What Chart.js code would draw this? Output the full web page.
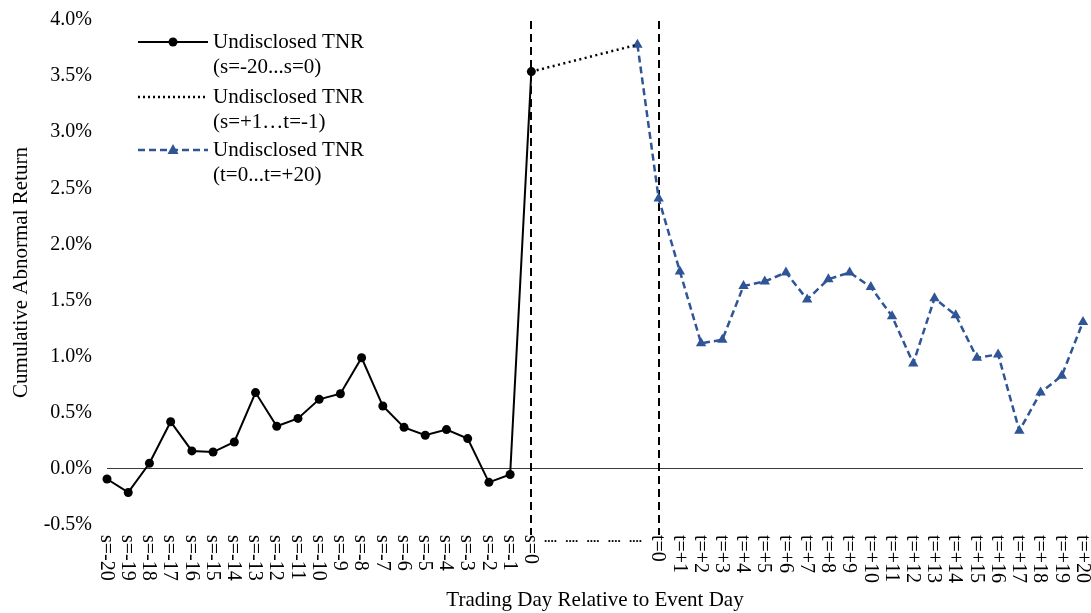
<!DOCTYPE html>
<html>
<head>
<meta charset="utf-8">
<script src="https://cdn.jsdelivr.net/npm/chart.js@4/dist/chart.umd.min.js"></script>
<style>
  html, body { margin: 0; padding: 0; background: #ffffff; }
  #wrap { width: 1091px; height: 613px; }
</style>
</head>
<body>
<div id="wrap"><canvas id="c" width="1091" height="613"></canvas></div>
<script>
// ---- Data ----
const preLabels = ['s=-20','s=-19','s=-18','s=-17','s=-16','s=-15','s=-14','s=-13','s=-12','s=-11',
                   's=-10','s=-9','s=-8','s=-7','s=-6','s=-5','s=-4','s=-3','s=-2','s=-1','s=0'];
const gapLabels = ['....','....','....','....','....'];
const postLabels = ['t=0','t=+1','t=+2','t=+3','t=+4','t=+5','t=+6','t=+7','t=+8','t=+9','t=+10',
                    't=+11','t=+12','t=+13','t=+14','t=+15','t=+16','t=+17','t=+18','t=+19','t=+20'];

// Cumulative abnormal return, percent
const preEventCAR = [-0.09, -0.21, 0.05, 0.42, 0.16, 0.15, 0.24, 0.68, 0.38, 0.45,
                     0.62, 0.67, 0.99, 0.56, 0.37, 0.30, 0.35, 0.27, -0.12, -0.05, 3.54];
const bridgeCAR = [3.54, 3.78];            // s=0 -> last gap day
const postEventCAR = [3.78,                // last gap day
                      2.41, 1.76, 1.12, 1.15, 1.63, 1.67, 1.75, 1.51, 1.69, 1.75, 1.62,
                      1.36, 0.94, 1.52, 1.37, 0.99, 1.02, 0.34, 0.68, 0.83, 1.31];

const yTicks = [-0.5, 0.0, 0.5, 1.0, 1.5, 2.0, 2.5, 3.0, 3.5, 4.0];

const legendNames = [
  ['Undisclosed TNR', '(s=-20...s=0)'],
  ['Undisclosed TNR', '(s=+1\u2026t=-1)'],
  ['Undisclosed TNR', '(t=0...t=+20)']
];

// ---- Build library structures ----
const categories = [...preLabels, ...gapLabels, ...postLabels];
const N = categories.length;
const blank = () => new Array(N).fill(null);

const solidData = blank();
preEventCAR.forEach((v, i) => solidData[i] = v);

const bridgeData = blank();
const sZero = preLabels.length - 1;
const gapEnd = preLabels.length + gapLabels.length - 1;
bridgeData[sZero] = bridgeCAR[0];
bridgeData[gapEnd] = bridgeCAR[1];

const postData = blank();
postEventCAR.forEach((v, i) => postData[gapEnd + i] = v);

const tZero = preLabels.length + gapLabels.length;

const BLUE = '#2F5597';
const FONT = 'Liberation Serif, Times New Roman, serif';

const overlay = {
  id: 'overlay',
  beforeDatasetsDraw(chart) {
    const ctx = chart.ctx, xs = chart.scales.x, a = chart.chartArea;
    ctx.save();
    ctx.strokeStyle = '#000';
    ctx.lineWidth = 2;
    ctx.setLineDash([8, 5]);
    [sZero, tZero].forEach(i => {
      const x = Math.round(xs.getPixelForValue(i));
      ctx.beginPath();
      ctx.moveTo(x, a.top + 1);
      ctx.lineTo(x, a.bottom + 10);
      ctx.stroke();
    });
    ctx.restore();
  },
  afterDraw(chart) {
    const ctx = chart.ctx, xs = chart.scales.x, a = chart.chartArea;
    ctx.save();
    // x tick labels, reading top-to-bottom
    ctx.fillStyle = '#000';
    categories.forEach((lab, i) => {
      const x = xs.getPixelForValue(i);
      if (gapLabels.length && i > sZero && i < tZero) {
        ctx.font = 'bold 13px ' + FONT;
        ctx.textAlign = 'center';
        ctx.textBaseline = 'alphabetic';
        ctx.fillText(lab, x - 2, a.bottom + 17);
      } else {
        ctx.save();
        ctx.translate(x, a.bottom + 10);
        ctx.rotate(Math.PI / 2);
        ctx.font = '20px ' + FONT;
        ctx.textAlign = 'left';
        ctx.textBaseline = 'middle';
        ctx.fillText(lab, 0, 1);
        ctx.restore();
      }
    });

    // legend
    const lx0 = 138, lx1 = 208, tx = 213;
    const rows = [42, 97, 150];
    const styles = [
      {color: '#000', dash: [], width: 2, marker: 'circle'},
      {color: '#000', dash: [2, 3], width: 2.5, marker: null},
      {color: BLUE, dash: [7, 4], width: 2.5, marker: 'triangle'}
    ];
    rows.forEach((y, k) => {
      const s = styles[k];
      ctx.strokeStyle = s.color;
      ctx.lineWidth = s.width;
      ctx.setLineDash(s.dash);
      ctx.beginPath();
      ctx.moveTo(lx0, y);
      ctx.lineTo(lx1, y);
      ctx.stroke();
      ctx.setLineDash([]);
      ctx.fillStyle = s.color;
      const mx = (lx0 + lx1) / 2;
      if (s.marker === 'circle') {
        ctx.beginPath(); ctx.arc(mx, y, 4.5, 0, Math.PI * 2); ctx.fill();
      } else if (s.marker === 'triangle') {
        ctx.beginPath();
        ctx.moveTo(mx, y - 6); ctx.lineTo(mx + 5.5, y + 4); ctx.lineTo(mx - 5.5, y + 4);
        ctx.closePath(); ctx.fill();
      }
      ctx.fillStyle = '#000';
      ctx.font = '21px ' + FONT;
      ctx.textAlign = 'left';
      ctx.textBaseline = 'middle';
      ctx.fillText(legendNames[k][0], tx, y);
      ctx.fillText(legendNames[k][1], tx, y + 25);
    });
    ctx.restore();
  }
};

new Chart(document.getElementById('c'), {
  type: 'line',
  data: {
    labels: categories,
    datasets: [
      {
        label: legendNames[0].join(' '),
        data: solidData,
        borderColor: '#000', backgroundColor: '#000',
        borderWidth: 2, pointStyle: 'circle', pointRadius: 4.5,
        pointBackgroundColor: '#000', pointBorderColor: '#000', pointBorderWidth: 0,
        fill: false, tension: 0, spanGaps: false, clip: false
      },
      {
        label: legendNames[1].join(' '),
        data: bridgeData,
        borderColor: '#000', borderWidth: 2.5, borderDash: [2, 3.5],
        pointRadius: 0, fill: false, tension: 0, spanGaps: true, clip: false
      },
      {
        label: legendNames[2].join(' '),
        data: postData,
        borderColor: BLUE, backgroundColor: BLUE,
        borderWidth: 2.5, borderDash: [7, 4],
        pointStyle: 'triangle', pointRadius: 6,
        pointBackgroundColor: BLUE, pointBorderColor: BLUE, pointBorderWidth: 0,
        fill: false, tension: 0, spanGaps: false, clip: false
      }
    ]
  },
  options: {
    responsive: false,
    animation: false,
    devicePixelRatio: 1,
    layout: { padding: { top: 20, right: 8, left: 0, bottom: 0 } },
    plugins: { legend: { display: false }, tooltip: { enabled: false } },
    scales: {
      x: {
        type: 'category',
        offset: false,
        grid: { display: false, drawTicks: false },
        border: { display: false },
        ticks: { display: false, autoSkip: false },
        title: {
          display: true, text: 'Trading Day Relative to Event Day',
          color: '#000', font: { family: FONT, size: 21 }, padding: { top: 0, bottom: 0 }
        },
        afterFit(scale) { scale.height = 88; scale.paddingLeft = 0; scale.paddingRight = 0; }
      },
      y: {
        min: yTicks[0], max: yTicks[yTicks.length - 1],
        afterBuildTicks(scale) { scale.ticks = yTicks.map(v => ({ value: v })); },
        grid: {
          display: true, drawTicks: false, drawOnChartArea: true,
          color: c => (c.tick && Math.abs(c.tick.value) < 1e-9) ? '#3a3a3a' : 'rgba(0,0,0,0)',
          lineWidth: 1
        },
        border: { display: false },
        ticks: {
          color: '#000', padding: 15,
          font: { family: FONT, size: 20 },
          callback: v => v.toFixed(1) + '%'
        },
        title: {
          display: true, text: 'Cumulative Abnormal Return',
          color: '#000', font: { family: FONT, size: 21 }, padding: { top: 9, bottom: 0 }
        },
        afterFit(scale) { scale.width = 107; scale.paddingTop = 0; scale.paddingBottom = 0; }
      }
    }
  },
  plugins: [overlay]
});
</script>
</body>
</html>
